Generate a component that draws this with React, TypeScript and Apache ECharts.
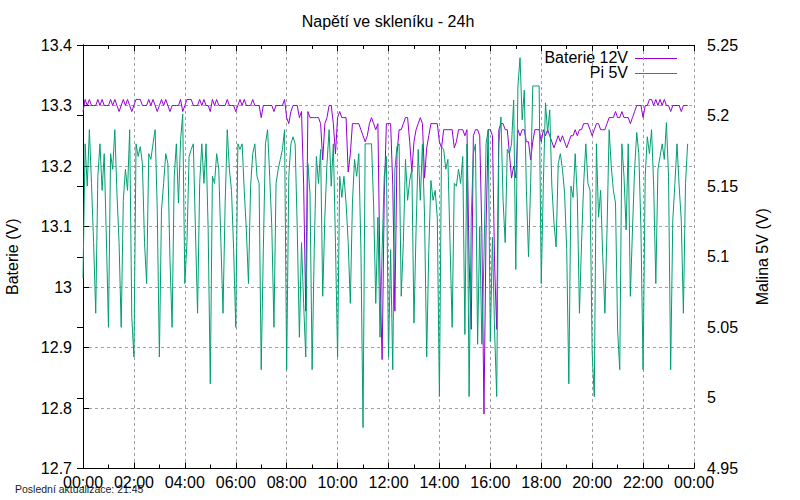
import React, { useEffect, useRef } from "react";
import * as echarts from "echarts";

const FONT = "'Liberation Sans', Arial, sans-serif";

const chartTitle = "Napětí ve skleníku - 24h";
const leftAxisName = "Baterie (V)";
const rightAxisName = "Malina 5V (V)";
const seriesNames = ["Baterie 12V", "Pi 5V"];
const footerText = "Poslední aktualizace: 21:45";

// sampling step of the log, minutes
const stepMinutes = 5;

const xTickLabels = [
  "00:00", "02:00", "04:00", "06:00", "08:00", "10:00", "12:00",
  "14:00", "16:00", "18:00", "20:00", "22:00", "00:00",
];

// Baterie 12V (left axis)
const battery = [
  13.29, 13.31, 13.30, 13.31, 13.30, 13.30, 13.30, 13.31, 13.30, 13.31,
  13.30, 13.30, 13.30, 13.31, 13.30, 13.31, 13.30, 13.29, 13.30, 13.31,
  13.30, 13.31, 13.30, 13.29, 13.30, 13.31, 13.31, 13.31, 13.30, 13.30,
  13.30, 13.31, 13.30, 13.31, 13.30, 13.29, 13.30, 13.31, 13.30, 13.31,
  13.30, 13.29, 13.30, 13.30, 13.30, 13.30, 13.31, 13.29, 13.30,
  13.31, 13.31, 13.31, 13.30, 13.30, 13.30, 13.31, 13.30, 13.31, 13.30,
  13.30, 13.29, 13.31, 13.30, 13.31, 13.30, 13.30, 13.30, 13.30, 13.31,
  13.30, 13.30, 13.30, 13.29, 13.30, 13.31, 13.30, 13.31, 13.30, 13.30,
  13.30, 13.31, 13.30, 13.30, 13.30, 13.28, 13.30, 13.30, 13.30, 13.30,
  13.30, 13.29, 13.30, 13.30, 13.30, 13.30, 13.31, 13.28,
  13.27, 13.29, 13.30, 13.30, 13.30, 13.28, 13.29, 13.17, 12.96, 13.29,
  13.28, 13.28, 13.28, 13.28, 13.28, 13.27, 13.21, 13.27, 13.28, 13.30,
  13.30, 13.27, 13.22, 13.28, 13.29, 13.28, 13.28, 13.28, 13.19, 13.22,
  13.27, 13.27, 13.27, 13.27, 13.26, 13.25, 13.24, 13.25, 13.27, 13.28,
  13.27, 13.26, 13.27, 13.02, 12.88, 13.15, 13.27, 13.27, 13.27,
  13.17, 12.96, 13.22, 13.26, 13.26, 13.27, 13.28, 13.28, 13.24, 13.19,
  13.24, 13.26, 13.27, 13.28, 13.27, 13.18, 13.23, 13.25, 13.27, 13.27,
  13.27, 13.27, 13.24, 13.23, 13.26, 13.26, 13.26, 13.26, 13.26, 13.23,
  13.24, 13.26, 13.26, 13.26, 13.25, 13.26, 13.04, 12.93, 13.25, 13.26,
  13.26, 13.25, 13.09, 12.79, 13.10, 13.26, 13.26, 13.25,
  13.04, 12.93, 13.26, 13.27, 13.27, 13.26, 13.26, 13.22, 13.18, 13.20,
  13.18, 13.26, 13.25, 13.26, 13.26, 13.24, 13.24, 13.21, 13.24, 13.26,
  13.26, 13.26, 13.24, 13.26, 13.25, 13.26, 13.25, 13.24, 13.23, 13.24,
  13.25, 13.24, 13.25, 13.24, 13.23, 13.24, 13.25, 13.25, 13.26, 13.25,
  13.26, 13.26, 13.27, 13.27, 13.27, 13.26, 13.25, 13.26,
  13.27, 13.27, 13.26, 13.26, 13.26, 13.27, 13.28, 13.28, 13.28, 13.29,
  13.28, 13.28, 13.29, 13.28, 13.28, 13.28, 13.27, 13.28, 13.29, 13.30,
  13.30, 13.30, 13.28, 13.30, 13.30, 13.31, 13.31, 13.30, 13.31, 13.30,
  13.31, 13.30, 13.31, 13.30, 13.30, 13.29, 13.30, 13.30, 13.30, 13.30,
  13.29, 13.30, 13.30, 13.30,
];

// Pi 5V (right axis)
const pi = [
  5.085, 5.180, 5.150, 5.190, 5.152, 5.110, 5.060, 5.157, 5.180, 5.147,
  5.173, 5.114, 5.050, 5.173, 5.162, 5.190, 5.145, 5.110, 5.050, 5.140,
  5.162, 5.147, 5.190, 5.057, 5.029, 5.180, 5.171, 5.178, 5.166, 5.110,
  5.081, 5.173, 5.169, 5.180, 5.190, 5.133, 5.029, 5.133, 5.152, 5.173,
  5.166, 5.098, 5.050, 5.157, 5.180, 5.138, 5.183, 5.201, 5.081, 5.110,
  5.171, 5.176, 5.180, 5.119, 5.060, 5.152, 5.180, 5.152, 5.180, 5.119,
  5.010, 5.157, 5.152, 5.173, 5.162, 5.110, 5.060, 5.138, 5.190, 5.162,
  5.147, 5.105, 5.050, 5.180, 5.176, 5.180, 5.147, 5.119, 5.081, 5.150,
  5.173, 5.180, 5.157, 5.152, 5.020, 5.105, 5.180, 5.190, 5.157, 5.121,
  5.050, 5.152, 5.162, 5.169, 5.176, 5.190, 5.020, 5.157, 5.180, 5.185,
  5.180, 5.119, 5.043, 5.110, 5.067, 5.029, 5.166, 5.145, 5.020, 5.105,
  5.171, 5.152, 5.176, 5.072, 5.128, 5.166, 5.190, 5.150, 5.180, 5.110,
  5.029, 5.157, 5.142, 5.157, 5.138, 5.110, 5.067, 5.138, 5.169, 5.157,
  5.173, 5.105, 4.979, 5.180, 5.180, 5.180, 5.180, 5.136, 5.067, 5.128,
  5.043, 5.105, 5.157, 5.171, 5.029, 5.105, 5.020, 5.162, 5.178, 5.180,
  5.072, 5.110, 5.169, 5.140, 5.154, 5.162, 5.053, 5.119, 5.176, 5.140,
  5.180, 5.128, 5.029, 5.105, 5.154, 5.140, 5.147, 5.128, 5.001, 5.178,
  5.176, 5.162, 5.169, 5.110, 5.050, 5.152, 5.150, 5.162, 5.152, 5.171,
  5.045, 5.180, 5.001, 5.128, 5.173, 5.180, 5.038, 5.121, 5.038, 5.100,
  5.180, 5.190, 5.040, 5.114, 5.048, 5.001, 5.180, 5.199, 5.140, 5.110,
  5.176, 5.173, 5.180, 5.211, 5.091, 5.221, 5.241, 5.197, 5.218, 5.147,
  5.100, 5.152, 5.221, 5.221, 5.221, 5.221, 5.081, 5.152, 5.209, 5.188,
  5.204, 5.150, 5.124, 5.107, 5.166, 5.173, 5.162, 5.145, 5.105, 5.010,
  5.150, 5.142, 5.173, 5.142, 5.060, 5.110, 5.152, 5.180, 5.152, 5.147,
  5.032, 5.001, 5.180, 5.128, 5.147, 5.100, 5.060, 5.119, 5.190, 5.164,
  5.147, 5.138, 5.048, 5.020, 5.180, 5.157, 5.119, 5.180, 5.072, 5.119,
  5.162, 5.188, 5.173, 5.119, 5.020, 5.157, 5.185, 5.173, 5.190, 5.150,
  5.081, 5.162, 5.171, 5.180, 5.169, 5.195, 5.157, 5.020, 5.126, 5.152,
  5.180, 5.150, 5.126, 5.060, 5.152, 5.180,
];

const PURPLE = "#9400d3";
const GREEN = "#009e73";

export default function App() {
  const ref = useRef<HTMLDivElement>(null);

  useEffect(() => {
    if (!ref.current) return;
    const chart = echarts.init(ref.current, null, { renderer: "svg" });

    const bData = battery.map((v, i) => [i * stepMinutes, v]);
    const pData = pi.map((v, i) => [i * stepMinutes, v]);

    const xFmt = (v: number) => xTickLabels[Math.round(v / 120)] ?? "";
    const axisLineStyle = { color: "#000", width: 1 };
    const labelStyle = { fontSize: 16, color: "#000", fontFamily: FONT };
    const gridLine = { show: true, lineStyle: { color: "#a0a0a0", width: 1, type: [3, 3] } };

    chart.setOption({
      animation: false,
      backgroundColor: "#ffffff",
      title: {
        text: chartTitle,
        left: 388,
        top: 13,
        padding: 0,
        textAlign: "center",
        textStyle: { fontSize: 16, fontWeight: "normal", color: "#000", fontFamily: FONT },
      },
      grid: {
        left: 83,
        right: 106,
        top: 45,
        bottom: 31.5,
        containLabel: false,
        outerBoundsMode: "none",
      },
      xAxis: [
        {
          type: "value",
          position: "bottom",
          min: 0,
          max: 1440,
          interval: 120,
          axisLine: { show: true, lineStyle: axisLineStyle },
          axisTick: { show: true, inside: true, length: 6, lineStyle: axisLineStyle },
          minorTick: { show: true, splitNumber: 2, length: 4, lineStyle: axisLineStyle },
          axisLabel: { ...labelStyle, margin: 6, formatter: xFmt },
          splitLine: gridLine,
        },
        {
          type: "value",
          position: "top",
          min: 0,
          max: 1440,
          interval: 120,
          axisLine: { show: true, lineStyle: axisLineStyle },
          axisTick: { show: true, inside: true, length: 6, lineStyle: axisLineStyle },
          minorTick: { show: true, splitNumber: 2, length: 4, lineStyle: axisLineStyle },
          axisLabel: { show: false },
          splitLine: { show: false },
        },
      ],
      yAxis: [
        {
          type: "value",
          position: "left",
          min: 12.7,
          max: 13.4,
          interval: 0.1,
          name: leftAxisName,
          nameLocation: "middle",
          nameRotate: 90,
          nameGap: 63,
          nameTextStyle: labelStyle,
          axisLine: { show: true, lineStyle: axisLineStyle },
          axisTick: { show: true, inside: true, length: 6, lineStyle: axisLineStyle },
          axisLabel: {
            ...labelStyle,
            margin: 11,
            formatter: (v: number) => String(Math.round(v * 10) / 10),
          },
          splitLine: gridLine,
        },
        {
          type: "value",
          position: "right",
          min: 4.95,
          max: 5.25,
          interval: 0.05,
          name: rightAxisName,
          nameLocation: "middle",
          nameRotate: 90,
          nameGap: 60,
          nameTextStyle: labelStyle,
          axisLine: { show: true, lineStyle: axisLineStyle },
          axisTick: { show: true, inside: true, length: 6, lineStyle: axisLineStyle },
          axisLabel: {
            ...labelStyle,
            margin: 13,
            formatter: (v: number) => String(Math.round(v * 100) / 100),
          },
          splitLine: { show: false },
        },
      ],
      series: [
        {
          name: seriesNames[0],
          type: "line",
          xAxisIndex: 0,
          yAxisIndex: 0,
          data: bData,
          symbol: "none",
          showSymbol: false,
          silent: true,
          lineStyle: { color: PURPLE, width: 1 },
          itemStyle: { color: PURPLE },
        },
        {
          name: seriesNames[1],
          type: "line",
          xAxisIndex: 0,
          yAxisIndex: 1,
          data: pData,
          symbol: "none",
          showSymbol: false,
          silent: true,
          lineStyle: { color: GREEN, width: 1 },
          itemStyle: { color: GREEN },
        },
      ],
      graphic: [
        {
          type: "text",
          x: 628,
          y: 57.5,
          style: {
            text: seriesNames[0],
            fill: "#000",
            font: `16px ${FONT}`,
            textAlign: "right",
            textVerticalAlign: "middle",
          },
        },
        {
          type: "line",
          shape: { x1: 635, y1: 58.5, x2: 677, y2: 58.5 },
          style: { stroke: PURPLE, lineWidth: 1 },
        },
        {
          type: "text",
          x: 628,
          y: 72,
          style: {
            text: seriesNames[1],
            fill: "#000",
            font: `16px ${FONT}`,
            textAlign: "right",
            textVerticalAlign: "middle",
          },
        },
        {
          type: "line",
          shape: { x1: 635, y1: 73.5, x2: 677, y2: 73.5 },
          style: { stroke: GREEN, lineWidth: 1 },
        },
        {
          type: "text",
          x: 15,
          y: 488.5,
          style: {
            text: footerText,
            fill: "#222",
            font: `10.5px ${FONT}`,
            textAlign: "left",
            textVerticalAlign: "middle",
          },
        },
      ],
    });

    return () => chart.dispose();
  }, []);

  return (
    <div
      ref={ref}
      style={{ position: "fixed", left: 0, top: 0, width: 800, height: 500, background: "#fff" }}
    />
  );
}
